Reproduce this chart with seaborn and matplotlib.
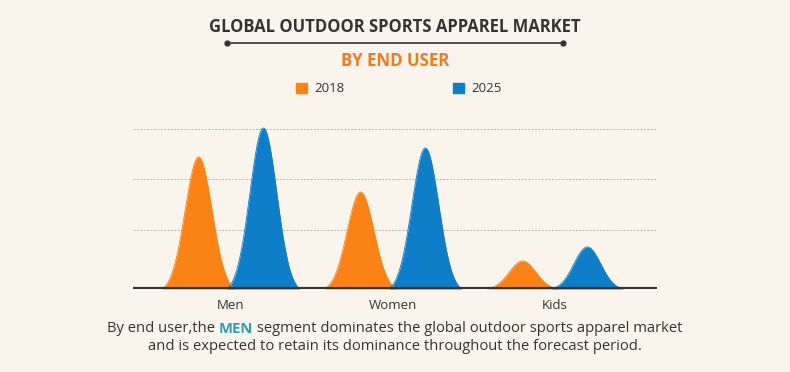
import numpy as np
import pandas as pd
import seaborn as sns
import matplotlib.pyplot as plt
from matplotlib.patches import Patch
from matplotlib.lines import Line2D

# data (peak heights)
segments = ['Men', 'Women', 'Kids']
years = ['2018', '2025']
values_2018 = [132, 97, 28]
values_2025 = [161, 141, 42]
grid_levels = [59, 110, 160]

BG = '#f9f5ec'
ORANGE = '#fb8214'
BLUE = '#0e7ec8'
DARK = '#333333'

sns.set_theme(style='white')
plt.rcParams['font.family'] = ['Open Sans', 'DejaVu Sans']

fig = plt.figure(figsize=(7.9, 3.72), dpi=100, facecolor=BG)
ax = fig.add_axes([133 / 790, 1 - 289 / 372, 524 / 790, 165 / 372])
ax.set_facecolor(BG)

# build bell-shaped peaks for each segment/year
offset = 0.2
sigma = 0.083
half = 0.225
rows = []
for i, seg in enumerate(segments):
    for yr, vals, sgn in [('2018', values_2018, -1), ('2025', values_2025, 1)]:
        c = i + sgn * offset
        xs = np.linspace(c - half, c + half, 160)
        g = np.exp(-0.5 * ((xs - c) / sigma) ** 2)
        e = np.exp(-0.5 * (half / sigma) ** 2)
        ys = vals[i] * (g - e) / (1 - e)
        for x, y in zip(xs, ys):
            rows.append({'x': x, 'y': y, 'year': yr, 'seg': seg})
df = pd.DataFrame(rows)

palette = {'2018': ORANGE, '2025': BLUE}
for yr in years:
    for seg in segments:
        g = df[(df['year'] == yr) & (df['seg'] == seg)]
        ax.fill_between(g['x'], 0, g['y'], color=palette[yr], lw=0, zorder=2)
sns.lineplot(data=df, x='x', y='y', hue='year', units='seg', estimator=None,
             palette=palette, lw=0.6, legend=False, ax=ax, zorder=2)

for lv in grid_levels:
    ax.axhline(lv, color='#b9b5ad', lw=0.7, ls=(0, (2, 1.5)), zorder=1)
ax.axhline(0, color=DARK, lw=3, zorder=3)

ax.set_xlim(-0.605, 2.63)
ax.set_ylim(0, 165)
ax.set_xticks(range(len(segments)))
ax.set_xticklabels(segments, fontsize=9.5, color=DARK)
ax.tick_params(axis='x', length=0, pad=7)
ax.set_yticks([])
ax.set_xlabel('')
ax.set_ylabel('')
for s in ax.spines.values():
    s.set_visible(False)

# titles
fig.text(0.5, 1 - 27 / 372, 'GLOBAL OUTDOOR SPORTS APPAREL MARKET', ha='center', va='center',
         fontsize=12, fontweight='bold', color=DARK)
fig.add_artist(Line2D([227 / 790, 563 / 790], [1 - 43 / 372] * 2, color=DARK, lw=1.2,
                      marker='o', markersize=3.5, markevery=[0, 1]))
fig.text(0.5, 1 - 61 / 372, 'BY END USER', ha='center', va='center',
         fontsize=12.2, fontweight='bold', color='#f07a20')

handles = [Patch(color=ORANGE), Patch(color=BLUE)]
fig.legend(handles, years, loc='center', bbox_to_anchor=(0.5 + 4 / 790, 1 - 89 / 372), ncol=2,
           frameon=False, fontsize=9.5, handlelength=0.8, handleheight=0.8,
           handletextpad=0.6, columnspacing=8.2, labelcolor=DARK)

# caption with highlighted word
cap_size = 10.6
parts = [('By end user,the ', DARK, 'normal'), ('MEN', '#2f9bb8', 'bold'),
         (' segment dominates the global outdoor sports apparel market', DARK, 'normal')]
texts = [fig.text(0, 1 - 329 / 372, p, color=c, fontweight=w, fontsize=cap_size,
                  ha='left', va='center') for p, c, w in parts]
fig.canvas.draw()
r = fig.canvas.get_renderer()
widths = [t.get_window_extent(r).width / fig.bbox.width for t in texts]
x0 = 0.5 - sum(widths) / 2
for t, w in zip(texts, widths):
    t.set_x(x0)
    x0 += w
fig.text(0.5, 1 - 347 / 372, 'and is expected to retain its dominance throughout the forecast period.',
         ha='center', va='center', fontsize=cap_size, color=DARK)

fig.savefig('out.png', dpi=100, facecolor=BG)
